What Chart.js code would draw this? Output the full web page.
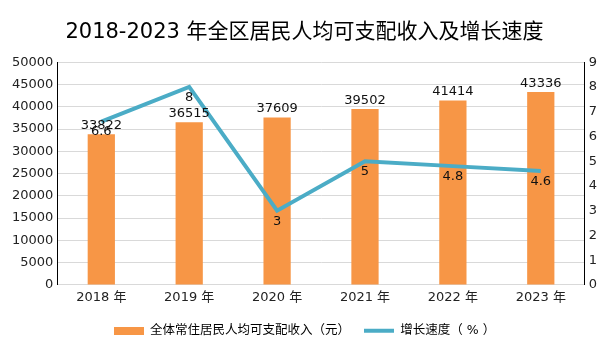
<!DOCTYPE html>
<html><head><meta charset="utf-8">
<script src="https://cdn.jsdelivr.net/npm/chart.js@4/dist/chart.umd.min.js"></script>
<style>html,body{margin:0;padding:0;background:#fff}#wrap{width:605px;height:340px}</style>
</head><body><div id="wrap"><canvas id="c" width="605" height="340"></canvas></div>
<script>
const categories = ["2018 年","2019 年","2020 年","2021 年","2022 年","2023 年"];
const incomeValues = [33822, 36515, 37609, 39502, 41414, 43336];
const growthValues = [6.6, 8, 3, 5, 4.8, 4.6];
const incomeLabel = "全体常住居民人均可支配收入（元）";
const growthLabel = "增长速度（ % ）";
const titleText = "2018-2023 年全区居民人均可支配收入及增长速度";

const FONT = "'DejaVu Sans','Noto Sans CJK SC',sans-serif";
const ORANGE = "#f79646", BLUE = "#4bacc6";

function swatch(color, h) {
  const c = document.createElement('canvas'); c.width = 30; c.height = 8;
  const x = c.getContext('2d'); x.fillStyle = color; x.fillRect(0, (8 - h) / 2, 30, h); return c;
}

const labelPlugin = {
  id: 'vals',
  afterDatasetsDraw(chart) {
    const ctx = chart.ctx; ctx.save();
    ctx.font = "13px " + FONT; ctx.fillStyle = "#111"; ctx.textAlign = "center";
    chart.getDatasetMeta(0).data.forEach((b, i) => {
      ctx.textBaseline = "bottom"; ctx.fillText(String(incomeValues[i]), b.x, b.y - 2);
    });
    chart.getDatasetMeta(1).data.forEach((p, i) => {
      ctx.textBaseline = "top"; ctx.fillText(String(growthValues[i]), p.x, p.y + 4);
    });
    ctx.restore();
  }
};

new Chart(document.getElementById('c'), {
  data: {
    labels: categories,
    datasets: [
      { type: 'bar', label: incomeLabel, data: incomeValues, backgroundColor: ORANGE, yAxisID: 'y', order: 2,
        barPercentage: 0.62, categoryPercentage: 0.5 },
      { type: 'line', label: growthLabel, data: growthValues, borderColor: BLUE, backgroundColor: BLUE, borderWidth: 4,
        pointRadius: 0, yAxisID: 'y1', order: 1, tension: 0 }
    ]
  },
  options: {
    responsive: false, animation: false, devicePixelRatio: 1,
    layout: { padding: { left: 8, right: 4, top: 0, bottom: -7 } },
    plugins: {
      title: { display: true, text: titleText, color: "#000", font: { family: FONT, size: 21, weight: 'normal' }, padding: { top: 20, bottom: 17 } },
      legend: { position: 'bottom', labels: { color: "#222", font: { family: FONT, size: 12.5 }, usePointStyle: true,
        pointStyleWidth: 30, padding: 14,
        generateLabels(chart) {
          return [
            { text: incomeLabel, pointStyle: swatch(ORANGE, 8), fillStyle: ORANGE, strokeStyle: ORANGE, lineWidth: 0, datasetIndex: 0 },
            { text: growthLabel, pointStyle: swatch(BLUE, 4), fillStyle: BLUE, strokeStyle: BLUE, lineWidth: 0, datasetIndex: 1 }
          ];
        } } },
      tooltip: { enabled: false }
    },
    scales: {
      x: { grid: { display: false, drawTicks: false }, border: { color: "#d9d9d9" },
        ticks: { color: "#222", font: { family: FONT, size: 13 }, padding: 5 } },
      y: { position: 'left', min: 0, max: 50000, ticks: { stepSize: 5000, color: "#222", font: { family: FONT, size: 13 }, padding: 4, callback: v => String(v) },
        grid: { color: "#d9d9d9", drawTicks: false }, border: { color: "#000", width: 1 } },
      y1: { position: 'right', min: 0, max: 9, ticks: { stepSize: 1, color: "#222", font: { family: FONT, size: 13 }, padding: 4 },
        grid: { display: false, drawTicks: false }, border: { color: "#000", width: 1 } }
    }
  },
  plugins: [labelPlugin]
});
</script></body></html>
